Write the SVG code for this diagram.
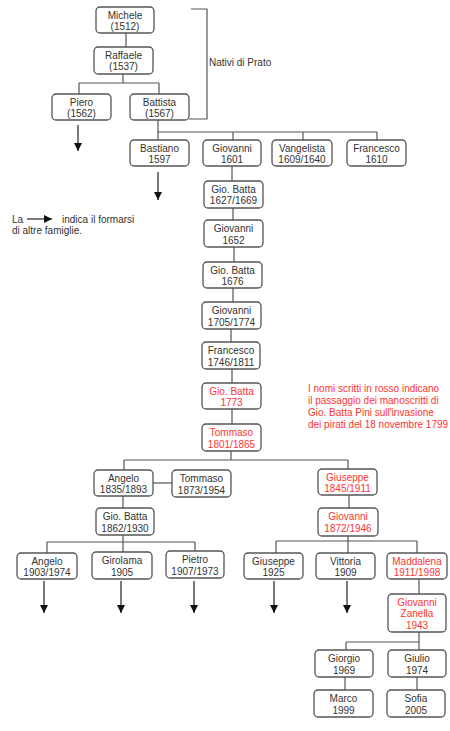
<svg xmlns="http://www.w3.org/2000/svg" width="450" height="731" viewBox="0 0 450 731">
<defs>
<style>
.b{fill:#fff;stroke:#555;stroke-width:1.3}
.t{font-family:"Liberation Sans",Arial,sans-serif;font-size:10px;fill:#333;text-anchor:middle}
.r{fill:#f33}
.n{font-family:"Liberation Sans",Arial,sans-serif;font-size:10px;fill:#333}
.nr{font-family:"Liberation Sans",Arial,sans-serif;font-size:10px;fill:#f33}
.c{stroke:#555;stroke-width:1.2;fill:none}
.a{stroke:#222;stroke-width:1.2;fill:none}
</style>
<marker id="ah" markerUnits="userSpaceOnUse" markerWidth="8" markerHeight="8" refX="8" refY="4" orient="auto">
<path d="M0,0 L8,4 L0,8 z" fill="#111"/>
</marker>
</defs>
<rect width="450" height="731" fill="#fff"/>

<g id="connectors">
<path class="c" d="M126,33V47"/>
<path class="c" d="M123,74V83M79,83H159M79,83V94M159,83V94"/>
<path class="c" d="M191,9H207V119H189"/>
<path class="c" d="M158,120V132M158,132H377M158,132V140M233,132V140M303,132V140M377,132V140"/>
<path class="c" d="M232,166V181M233,208V220M234,247V262M233,288V302M231,329V342M232,369V383M232,409V424M231,451V460"/>
<path class="c" d="M124,460H348M124,460V470M348,460V469"/>
<path class="c" d="M153,483H172"/>
<path class="c" d="M123,496V508M123,535V542M47,542H195M47,542V553M123,542V552M195,542V551"/>
<path class="c" d="M349,495V508M348,536V541M276,541H417M276,541V553M348,541V553M417,541V553"/>
<path class="c" d="M419,579V594M419,632V642M346,642H419M346,642V650M419,642V650"/>
<path class="c" d="M345,677V690M417,677V690"/>
<path class="a" marker-end="url(#ah)" d="M78,125V151"/>
<path class="a" marker-end="url(#ah)" d="M158,172V200"/>
<path class="a" marker-end="url(#ah)" d="M44,581V613"/>
<path class="a" marker-end="url(#ah)" d="M121,581V613"/>
<path class="a" marker-end="url(#ah)" d="M194,581V613"/>
<path class="a" marker-end="url(#ah)" d="M274,581V613"/>
<path class="a" marker-end="url(#ah)" d="M347,581V613"/>
<path class="a" marker-end="url(#ah)" d="M27,219H52"/>
</g>

<g id="michele"><rect class="b" x="96" y="7" width="58" height="26" rx="4"/><text class="t" x="125" y="18.5">Michele</text><text class="t" x="125" y="30">(1512)</text></g>
<g id="raffaele"><rect class="b" x="94" y="47" width="59" height="27" rx="4"/><text class="t" x="123.5" y="58.5">Raffaele</text><text class="t" x="123.5" y="70">(1537)</text></g>
<g id="piero"><rect class="b" x="52" y="94" width="59" height="26" rx="4"/><text class="t" x="81.5" y="105.5">Piero</text><text class="t" x="81.5" y="117">(1562)</text></g>
<g id="battista"><rect class="b" x="130" y="94" width="59" height="26" rx="4"/><text class="t" x="159.5" y="105.5">Battista</text><text class="t" x="159.5" y="117">(1567)</text></g>
<g id="nativi"><text class="n" x="209" y="66">Nativi di Prato</text></g>

<g id="bastiano"><rect class="b" x="130" y="140" width="59" height="26" rx="4"/><text class="t" x="159.5" y="151.5">Bastiano</text><text class="t" x="159.5" y="163">1597</text></g>
<g id="giovanni1601"><rect class="b" x="203" y="140" width="58" height="26" rx="4"/><text class="t" x="232" y="151.5">Giovanni</text><text class="t" x="232" y="163">1601</text></g>
<g id="vangelista"><rect class="b" x="272" y="140" width="60" height="26" rx="4"/><text class="t" x="302" y="151.5">Vangelista</text><text class="t" x="302" y="163">1609/1640</text></g>
<g id="francesco1610"><rect class="b" x="347" y="140" width="59" height="26" rx="4"/><text class="t" x="376.5" y="151.5">Francesco</text><text class="t" x="376.5" y="163">1610</text></g>

<g id="legend"><text class="n" x="12" y="223">La</text><text class="n" x="62" y="223">indica il formarsi</text><text class="n" x="12" y="234">di altre famiglie.</text></g>

<g id="giobatta1627"><rect class="b" x="204" y="181" width="59" height="27" rx="4"/><text class="t" x="233.5" y="192.5">Gio. Batta</text><text class="t" x="233.5" y="204">1627/1669</text></g>
<g id="giovanni1652"><rect class="b" x="204" y="220" width="59" height="27" rx="4"/><text class="t" x="233.5" y="231.5">Giovanni</text><text class="t" x="233.5" y="243.5">1652</text></g>
<g id="giobatta1676"><rect class="b" x="203" y="262" width="59" height="26" rx="4"/><text class="t" x="232.5" y="273.5">Gio. Batta</text><text class="t" x="232.5" y="285">1676</text></g>
<g id="giovanni1705"><rect class="b" x="202" y="302" width="59" height="27" rx="4"/><text class="t" x="231.5" y="313.5">Giovanni</text><text class="t" x="231.5" y="325.5">1705/1774</text></g>
<g id="francesco1746"><rect class="b" x="202" y="342" width="58" height="27" rx="4"/><text class="t" x="231" y="353.5">Francesco</text><text class="t" x="231" y="365.5">1746/1811</text></g>
<g id="giobatta1773"><rect class="b" x="202" y="383" width="59" height="26" rx="4"/><text class="t r" x="231.5" y="394.5">Gio. Batta</text><text class="t r" x="231.5" y="406">1773</text></g>
<g id="tommaso1801"><rect class="b" x="202" y="424" width="59" height="27" rx="4"/><text class="t r" x="231.5" y="435.5">Tommaso</text><text class="t r" x="231.5" y="447.5">1801/1865</text></g>

<g id="note"><text class="nr" x="308" y="392">I nomi scritti in rosso indicano</text><text class="nr" x="308" y="404">il passaggio dei manoscritti di</text><text class="nr" x="308" y="416">Gio. Batta Pini sull'invasione</text><text class="nr" x="308" y="428">dei pirati del 18 novembre 1799</text></g>

<g id="angelo1835"><rect class="b" x="94" y="470" width="59" height="26" rx="4"/><text class="t" x="123.5" y="481.5">Angelo</text><text class="t" x="123.5" y="493">1835/1893</text></g>
<g id="tommaso1873"><rect class="b" x="172" y="470" width="59" height="27" rx="4"/><text class="t" x="201.5" y="481.5">Tommaso</text><text class="t" x="201.5" y="493.5">1873/1954</text></g>
<g id="giobatta1862"><rect class="b" x="96" y="508" width="58" height="27" rx="4"/><text class="t" x="125" y="519.5">Gio. Batta</text><text class="t" x="125" y="531.5">1862/1930</text></g>
<g id="angelo1903"><rect class="b" x="17" y="553" width="60" height="26" rx="4"/><text class="t" x="47" y="564.5">Angelo</text><text class="t" x="47" y="576">1903/1974</text></g>
<g id="girolama"><rect class="b" x="92" y="552" width="60" height="27" rx="4"/><text class="t" x="122" y="563.5">Girolama</text><text class="t" x="122" y="575.5">1905</text></g>
<g id="pietro"><rect class="b" x="166" y="551" width="58" height="27" rx="4"/><text class="t" x="195" y="562.5">Pietro</text><text class="t" x="195" y="574.5">1907/1973</text></g>

<g id="giuseppe1845"><rect class="b" x="318" y="469" width="59" height="26" rx="4"/><text class="t r" x="347.5" y="480.5">Giuseppe</text><text class="t r" x="347.5" y="492">1845/1911</text></g>
<g id="giovanni1872"><rect class="b" x="318" y="508" width="60" height="28" rx="4"/><text class="t r" x="348" y="519.5">Giovanni</text><text class="t r" x="348" y="532">1872/1946</text></g>
<g id="giuseppe1925"><rect class="b" x="244" y="553" width="59" height="26" rx="4"/><text class="t" x="273.5" y="564.5">Giuseppe</text><text class="t" x="273.5" y="576">1925</text></g>
<g id="vittoria"><rect class="b" x="316" y="553" width="59" height="26" rx="4"/><text class="t" x="345.5" y="564.5">Vittoria</text><text class="t" x="345.5" y="576">1909</text></g>
<g id="maddalena"><rect class="b" x="387" y="553" width="60" height="26" rx="4"/><text class="t r" x="417" y="564.5">Maddalena</text><text class="t r" x="417" y="576">1911/1998</text></g>
<g id="zanella"><rect class="b" x="388" y="594" width="58" height="38" rx="4"/><text class="t r" x="417" y="605.5">Giovanni</text><text class="t r" x="417" y="617">Zanella</text><text class="t r" x="417" y="628.5">1943</text></g>
<g id="giorgio"><rect class="b" x="315" y="650" width="58" height="27" rx="4"/><text class="t" x="344" y="661.5">Giorgio</text><text class="t" x="344" y="673.5">1969</text></g>
<g id="giulio"><rect class="b" x="388" y="650" width="58" height="27" rx="4"/><text class="t" x="417" y="661.5">Giulio</text><text class="t" x="417" y="673.5">1974</text></g>
<g id="marco"><rect class="b" x="314" y="690" width="59" height="27" rx="4"/><text class="t" x="343.5" y="701.5">Marco</text><text class="t" x="343.5" y="713.5">1999</text></g>
<g id="sofia"><rect class="b" x="387" y="690" width="58" height="27" rx="4"/><text class="t" x="416" y="701.5">Sofia</text><text class="t" x="416" y="713.5">2005</text></g>
</svg>
